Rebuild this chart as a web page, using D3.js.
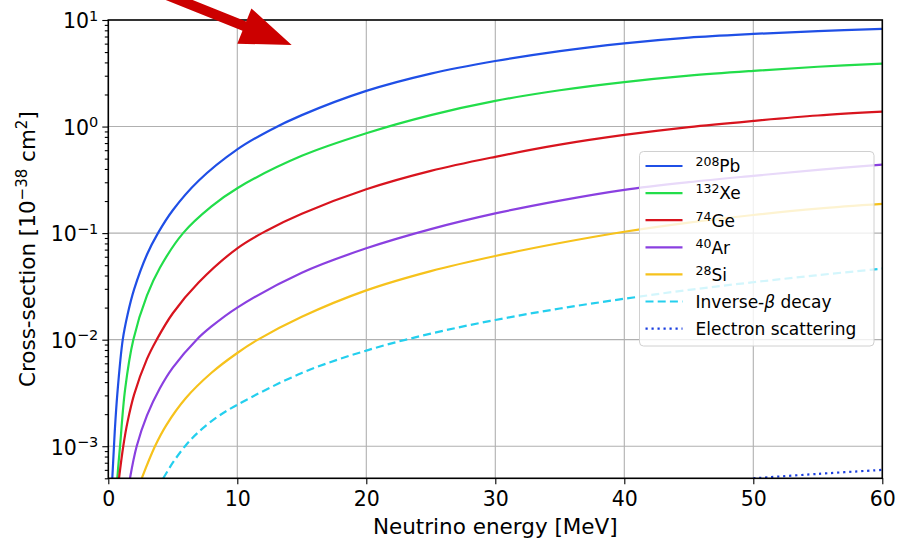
<!DOCTYPE html>
<html>
<head>
<meta charset="utf-8">
<script src="https://cdnjs.cloudflare.com/ajax/libs/d3/7.8.5/d3.min.js"></script>
<style>
	body { margin: 0; background: #fff; font-family: "DejaVu Sans", sans-serif; }
	.axis text { font-family: "DejaVu Sans", sans-serif; fill: #000; }
	.grid line { stroke: #b0b0b0; stroke-width: 1.1; }
</style>
</head>
<body>
<div id="chart"></div>
<script>
// ---------------- data ----------------
var xTicks = [0, 10, 20, 30, 40, 50, 60];
var yTicks = [1e-3, 1e-2, 1e-1, 1e0, 1e1];
var yTickExp = ["\u22123", "\u22122", "\u22121", "0", "1"];

var isotopeMass = ["208", "132", "74", "40", "28"];
var isotopeName = ["Pb", "Xe", "Ge", "Ar", "Si"];
var otherNames = ["Inverse-", "Electron scattering"];

// [neutrino energy (MeV), cross-section (1e-38 cm^2)]
var pb = [[0.31, 5e-4], [0.44, 1e-3], [0.5, 1.37e-3], [0.7, 3.1e-3], [1.12, 1e-2], [1.5, 0.0173], [2, 0.0296], [3, 0.063],
	[3.85, 0.1], [5, 0.164], [7, 0.31], [10, 0.61], [12.5, 0.92], [15, 1.28], [20, 2.16], [25, 3.14], [30, 4.12],
	[35, 5.11], [40, 6.04], [45, 6.84], [50, 7.4], [55, 7.87], [60, 8.24]];
var xe = [[0.70, 5e-4], [0.8, 7.1e-4], [0.91, 1e-3], [1.3, 3.4e-3], [1.94, 1e-2], [3, 0.026], [4, 0.0473], [5.8, 0.1],
	[8, 0.178], [10, 0.264], [15, 0.531], [20, 0.865], [25, 1.28], [30, 1.74], [35, 2.19], [40, 2.61], [45, 3.0],
	[50, 3.33], [55, 3.64], [60, 3.89]];
var ge = [[0.83, 5e-4], [1.16, 1e-3], [1.5, 1.71e-3], [2, 3.05e-3], [3, 6.6e-3], [3.75, 1e-2], [5, 0.0177], [7, 0.0344],
	[10, 0.072], [12.3, 0.106], [15, 0.152], [20, 0.258], [25, 0.384], [30, 0.52], [35, 0.676], [40, 0.834], [45, 0.989],
	[50, 1.13], [55, 1.27], [60, 1.38]];
var ar = [[1.68, 5e-4], [2.2, 1e-3], [3, 1.95e-3], [4, 3.5e-3], [5, 5.47e-3], [6.85, 1e-2], [8, 0.0133], [10, 0.02],
	[15, 0.0425], [20, 0.072], [25, 0.109], [30, 0.153], [35, 0.202], [40, 0.255], [45, 0.301], [50, 0.345],
	[55, 0.392], [60, 0.44]];
var si = [[2.59, 5e-4], [3.62, 1e-3], [4.5, 1.58e-3], [6, 2.82e-3], [8, 4.89e-3], [10, 0.0075], [11.6, 1e-2], [15, 0.0164],
	[20, 0.029], [25, 0.044], [30, 0.061], [35, 0.0807], [40, 0.103], [45, 0.1256], [50, 0.148], [55, 0.17], [60, 0.188]];
var ibd = [[4.26, 5e-4], [5, 7.0e-4], [5.95, 1e-3], [7, 1.36e-3], [8.5, 1.9e-3], [10, 0.00245], [15, 0.00487], [20, 0.0079],
	[25, 0.0114], [30, 0.0153], [35, 0.0196], [40, 0.0242], [45, 0.0293], [50, 0.0346], [55, 0.0403], [60, 0.0464]];
var escat = [[50, 5e-4], [55, 5.5e-4], [60, 6e-4]];

var colors = ["#1f4fe6", "#22dd4a", "#d8141e", "#8a40e0", "#f6c21c", "#24cfee", "#1a3fe0"];

// ---------------- setup ----------------
var W = 897, H = 539;
var margin = { top: 20, right: 14.7, bottom: 60.7, left: 108.3 };
var width = W - margin.left - margin.right,
	height = H - margin.top - margin.bottom;

var svg = d3.select("#chart").append("svg")
	.attr("width", W).attr("height", H)
	.style("font-family", "DejaVu Sans");

var g = svg.append("g")
	.attr("transform", "translate(" + margin.left + "," + margin.top + ")");

var x = d3.scaleLinear().domain([0, 60]).range([0, width]);
var y = d3.scaleLog().domain([5e-4, 10]).range([height, 0]);

g.append("clipPath").attr("id", "clip")
	.append("rect").attr("width", width).attr("height", height);

// grid
g.append("g").attr("class", "grid")
	.selectAll("line").data(xTicks.slice(1, -1)).enter().append("line")
	.attr("x1", d => x(d)).attr("x2", d => x(d))
	.attr("y1", 0).attr("y2", height);
g.append("g").attr("class", "grid")
	.selectAll("line").data(yTicks.slice(0, -1)).enter().append("line")
	.attr("x1", 0).attr("x2", width)
	.attr("y1", d => y(d)).attr("y2", d => y(d));

// curves
var line = d3.line()
	.x(d => x(d[0])).y(d => y(d[1]))
	.curve(d3.curveCatmullRom.alpha(0.5));

var series = [pb, xe, ge, ar, si, ibd, escat];
var dashes = [null, null, null, null, null, "8,4.2", "2.2,3.8"];

var curves = g.append("g").attr("clip-path", "url(#clip)");
series.forEach(function(s, i) {
	curves.append("path")
		.datum(s)
		.attr("d", line)
		.attr("fill", "none")
		.attr("stroke", colors[i])
		.attr("stroke-width", 2.2)
		.attr("stroke-dasharray", dashes[i]);
});

// axes
var xAxis = g.append("g").attr("class", "axis")
	.attr("transform", "translate(0," + height + ")")
	.call(d3.axisBottom(x).tickValues(xTicks).tickSize(6).tickPadding(7.5).tickSizeOuter(0));
xAxis.selectAll("text").style("font-size", "20.5px");

var minor = [];
for (var e = -4; e <= 0; e++) {
	for (var m = 2; m <= 9; m++) {
		var v = m * Math.pow(10, e);
		if (v >= 5e-4 && v <= 10) minor.push(v);
	}
}
g.append("g").attr("class", "axis")
	.call(d3.axisLeft(y).tickValues(minor).tickSize(3.5).tickFormat(() => "").tickSizeOuter(0));

var yAxis = g.append("g").attr("class", "axis")
	.call(d3.axisLeft(y).tickValues(yTicks).tickSize(6).tickFormat(() => "").tickSizeOuter(0));
yAxis.selectAll(".tick text").each(function(d, i) {
	var t = d3.select(this).attr("x", -10).attr("dy", "0.38em").style("font-size", "20.5px");
	t.append("tspan").text("10");
	t.append("tspan").attr("dy", -7.5).style("font-size", "14.5px").text(yTickExp[i]);
});
g.selectAll(".axis path.domain").attr("stroke", "none");
g.selectAll(".axis line").attr("stroke", "#000").attr("stroke-width", 1.1);

// frame
g.append("rect").attr("width", width).attr("height", height)
	.attr("fill", "none").attr("stroke", "#000").attr("stroke-width", 1.6);

// axis labels
svg.append("text")
	.attr("x", margin.left + width / 2).attr("y", 534)
	.attr("text-anchor", "middle").style("font-size", "21.5px")
	.text("Neutrino energy [MeV]");

var yl = svg.append("text")
	.attr("transform", "translate(35," + (margin.top + height / 2) + ") rotate(-90)")
	.attr("text-anchor", "middle").style("font-size", "21.5px");
yl.append("tspan").text("Cross-section [10");
yl.append("tspan").attr("dy", -8).style("font-size", "15px").text("\u221238");
yl.append("tspan").attr("dy", 8).text(" cm");
yl.append("tspan").attr("dy", -8).style("font-size", "15px").text("2");
yl.append("tspan").attr("dy", 8).text("]");

// legend
var lg = svg.append("g").attr("transform", "translate(639.5,151.5)");
lg.append("rect").attr("width", 234.5).attr("height", 194.5).attr("rx", 4)
	.attr("fill", "rgba(255,255,255,0.8)").attr("stroke", "#d0d0d0").attr("stroke-width", 1);

var legendRows = d3.range(7);
legendRows.forEach(function(i) {
	var cy = 14.5 + i * 27.1;
	lg.append("line")
		.attr("x1", 6).attr("x2", 43).attr("y1", cy).attr("y2", cy)
		.attr("stroke", colors[i]).attr("stroke-width", 2.2)
		.attr("stroke-dasharray", dashes[i]);
	var t = lg.append("text").attr("x", 56).attr("y", cy + 6.3).style("font-size", "17px");
	if (i < 5) {
		t.append("tspan").attr("dy", -6).style("font-size", "12.5px").text(isotopeMass[i]);
		t.append("tspan").attr("dy", 6).text(isotopeName[i]);
	} else if (i === 5) {
		t.append("tspan").text(otherNames[0]);
		t.append("tspan").style("font-style", "italic").text("\u03b2");
		t.append("tspan").text(" decay");
	} else {
		t.text(otherNames[1]);
	}
});

// red arrow annotation
var ang = 21.8;
svg.append("path")
	.attr("transform", "translate(291.7,45) rotate(" + ang + ")")
	.attr("d", "M0,0 L-51,-19 L-51,-5 L-190,-5 L-190,5 L-51,5 L-51,19 Z")
	.attr("fill", "#cc0000");
</script>
</body>
</html>
